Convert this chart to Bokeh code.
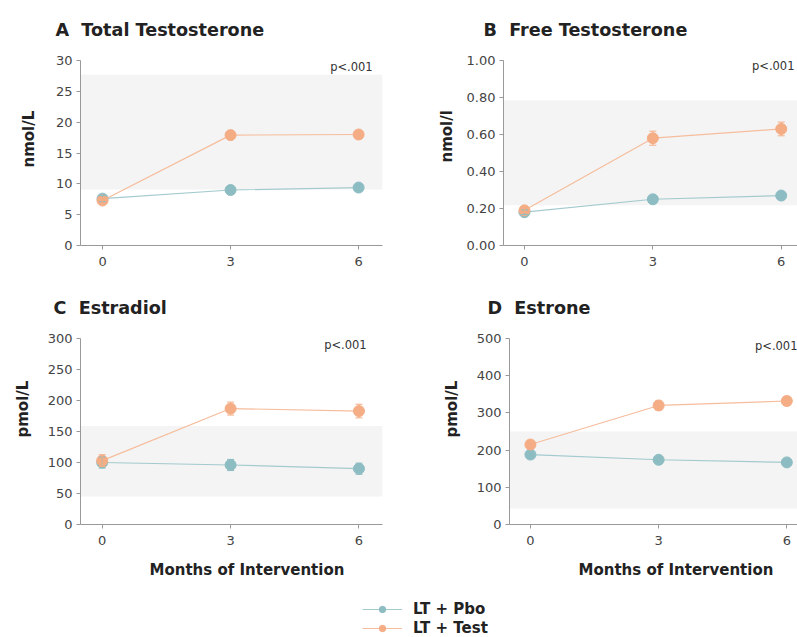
from bokeh.plotting import figure
from bokeh.layouts import column, row
from bokeh.models import (ColumnDataSource, Whisker, TeeHead, BoxAnnotation, Label, Title,
                          FixedTicker, NumeralTickFormatter, Legend, LegendItem)
from bokeh.embed import file_html
from bokeh.resources import INLINE

months = [0, 3, 6]
month_labels = ["0", "3", "6"]

# Panel A: Total Testosterone (nmol/L)
tt_pbo = [7.6, 9.0, 9.4]
tt_pbo_err = [0.5, 0.5, 0.5]
tt_test = [7.3, 17.9, 18.0]
tt_test_err = [0.5, 0.6, 0.6]
tt_ref = [9.1, 27.7]
tt_ticks = [0, 5, 10, 15, 20, 25, 30]

# Panel B: Free Testosterone (nmol/l)
ft_pbo = [0.18, 0.25, 0.27]
ft_pbo_err = [0.012, 0.015, 0.018]
ft_test = [0.19, 0.58, 0.63]
ft_test_err = [0.012, 0.038, 0.037]
ft_ref = [0.218, 0.785]
ft_ticks = [0.0, 0.2, 0.4, 0.6, 0.8, 1.0]

# Panel C: Estradiol (pmol/L)
e2_pbo = [100, 96, 90]
e2_pbo_err = [9, 9, 9]
e2_test = [103, 187, 183]
e2_test_err = [9.5, 10.5, 11]
e2_ref = [45, 159]
e2_ticks = [0, 50, 100, 150, 200, 250, 300]

# Panel D: Estrone (pmol/L)
e1_pbo = [188, 174, 167]
e1_pbo_err = [8, 8, 8]
e1_test = [215, 320, 332]
e1_test_err = [10, 12, 12]
e1_ref = [43, 250]
e1_ticks = [0, 100, 200, 300, 400, 500]

p_text = "p<.001"
x_title = "Months of Intervention"
group_names = ["LT + Pbo", "LT + Test"]

PBO_LINE, PBO_MARK = "#a3cace", "#8dbdc3"
TEST_LINE, TEST_MARK = "#f6bd9c", "#f4ad85"
FONT = "DejaVu Sans"
DARK = "#222222"


def panel(title, title_offset, title_standoff, ylabel, yl_standoff, yl_offset, yticks, yfmt,
          pbo, pbo_err, test, test_err, ref, p_pos,
          width, height, bl, br, bt, bb, xr, xlabel=None):
    p = figure(width=width, height=height, output_backend="svg", toolbar_location=None,
               x_range=xr, y_range=(yticks[0], yticks[-1]),
               min_border_left=bl, min_border_right=br, min_border_top=bt, min_border_bottom=bb)
    p.title.text = title
    p.title.text_font = FONT
    p.title.text_font_size = "17.6px"
    p.title.text_font_style = "bold"
    p.title.text_color = DARK
    p.title.align = "left"
    p.title.vertical_align = "top"
    p.title.offset = title_offset
    p.title.standoff = title_standoff
    p.outline_line_color = None
    p.grid.visible = False
    p.background_fill_color = "white"

    p.add_layout(BoxAnnotation(bottom=ref[0], top=ref[1], fill_color="#f4f4f4", fill_alpha=1.0,
                               line_color=None, level="underlay"))

    for vals, errs, lc, mc in [(pbo, pbo_err, PBO_LINE, PBO_MARK),
                               (test, test_err, TEST_LINE, TEST_MARK)]:
        src = ColumnDataSource(dict(x=months, y=vals,
                                    upper=[v + e for v, e in zip(vals, errs)],
                                    lower=[v - e for v, e in zip(vals, errs)]))
        p.line("x", "y", source=src, line_color=lc, line_width=1.2)
        p.add_layout(Whisker(base="x", upper="upper", lower="lower", source=src,
                             line_color=mc, line_width=1, level="glyph",
                             upper_head=TeeHead(size=7, line_color=mc, line_width=1),
                             lower_head=TeeHead(size=7, line_color=mc, line_width=1)))
        p.scatter("x", "y", source=src, size=11, fill_color=mc, line_color=mc)

    p.add_layout(Label(x=p_pos[0], y=p_pos[1], text=p_text, text_align="right",
                       text_baseline="middle", text_font=FONT, text_font_size="11.5px",
                       text_color="#333333"))

    p.xaxis.ticker = FixedTicker(ticks=months)
    p.xaxis.major_label_overrides = {m: s for m, s in zip(months, month_labels)}
    p.yaxis.ticker = FixedTicker(ticks=yticks)
    p.yaxis.formatter = NumeralTickFormatter(format=yfmt)
    for ax in (p.xaxis[0], p.yaxis[0]):
        ax.axis_line_color = "#999999"
        ax.major_tick_line_color = "#999999"
        ax.major_tick_out = 4
        ax.major_tick_in = 0
        ax.minor_tick_line_color = None
        ax.major_label_text_font = FONT
        ax.major_label_text_font_size = "13px"
        ax.major_label_text_color = "#444444"
    p.yaxis.major_label_standoff = 4
    p.xaxis.major_label_standoff = 7

    p.add_layout(Title(text=ylabel, align="left", vertical_align="middle", offset=yl_offset,
                       standoff=yl_standoff, text_font=FONT, text_font_size="15px",
                       text_font_style="bold", text_color=DARK), "left")
    if xlabel:
        p.add_layout(Title(text=xlabel, align="left", vertical_align="top", offset=69,
                           standoff=26, text_font=FONT, text_font_size="15px",
                           text_font_style="bold", text_color=DARK), "below")
    return p


NB = "\u00a0\u00a0"
pa = panel("A" + NB + "Total Testosterone", -25, 38, "nmol/L", 27, 78, tt_ticks, "0",
           tt_pbo, tt_pbo_err, tt_test, tt_test_err, tt_ref, (6.33, 28.9),
           400, 275, 80, 18, 60, 30, (-0.516, 6.56))
pb = panel("B" + NB + "Free Testosterone", -20, 38, "nmol/l", 14, 83, ft_ticks, "0.00",
           ft_pbo, ft_pbo_err, ft_test, ft_test_err, ft_ref, (6.31, 0.968),
           397, 275, 103, 0, 60, 30, (-0.49, 6.38))
pc = panel("C" + NB + "Estradiol", -27, 38, "pmol/L", 24, 87, e2_ticks, "0",
           e2_pbo, e2_pbo_err, e2_test, e2_test_err, e2_ref, (6.18, 290),
           400, 319, 80, 18, 63, 70, (-0.507, 6.55), x_title)
pd_ = panel("D" + NB + "Estrone", -22, 38, "pmol/L", 24, 87, e1_ticks, "0",
            e1_pbo, e1_pbo_err, e1_test, e1_test_err, e1_ref, (6.25, 481),
            397, 319, 109, 0, 63, 70, (-0.49, 6.25), x_title)

leg = figure(width=797, height=43, output_backend="svg", toolbar_location=None,
             x_range=(-100, -99), y_range=(-100, -99), x_axis_type=None, y_axis_type=None,
             min_border=0, outline_line_color=None)
leg.grid.visible = False
items = []
for name, vals, lc, mc in [(group_names[0], tt_pbo, PBO_LINE, PBO_MARK),
                           (group_names[1], tt_test, TEST_LINE, TEST_MARK)]:
    r1 = leg.line(months, vals, line_color=lc, line_width=1.2)
    r2 = leg.scatter(months, vals, size=8, fill_color=mc, line_color=mc)
    items.append(LegendItem(label=name, renderers=[r1, r2]))
legend = Legend(items=items, location=(362, 0), border_line_color=None, background_fill_alpha=0,
                padding=0, margin=0, spacing=1, glyph_width=40, glyph_height=16,
                label_standoff=11, label_text_font=FONT, label_text_font_size="15px",
                label_text_font_style="bold", label_text_color=DARK, label_height=16)
leg.add_layout(legend, "center")

layout = column(row(pa, pb), row(pc, pd_), leg)
open("out.html", "w").write(file_html(layout, INLINE))
